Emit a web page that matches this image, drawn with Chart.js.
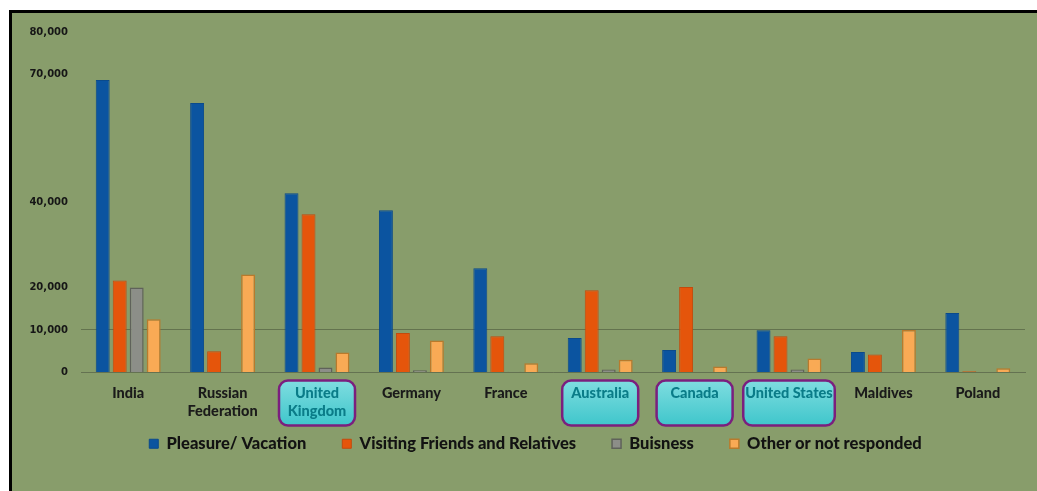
<!DOCTYPE html>
<html>
<head>
<meta charset="utf-8">
<script src="https://cdn.jsdelivr.net/npm/chart.js@4.4.1/dist/chart.umd.min.js"></script>
<style>
    html, body { margin: 0; padding: 0; background: #fff; }
    #frame {
        position: absolute; left: 9px; top: 10px; right: 0; bottom: 0;
        border-left: 3px solid #000; border-top: 3px solid #000;
        background: #889d6b;
    }
    #wrap { position: absolute; left: 0; top: 0; width: 1037px; height: 491px; }
</style>
</head>
<body>
<div id="frame"></div>
<div id="wrap"><canvas id="chart" width="1037" height="491"></canvas></div>
<script>
// Visitors by purpose of visit, top source countries
const countries = ['India', ['Russian', 'Federation'], ['United', 'Kingdom'], 'Germany', 'France',
    'Australia', 'Canada', 'United States', 'Maldives', 'Poland'];
const highlighted = [2, 5, 6, 7]; // boxed labels

const pleasure = [68700, 63300, 42100, 38100, 24500, 8100, 5300, 9900, 4800, 14000];
const friends  = [21600, 5000, 37200, 9300, 8500, 19300, 20100, 8500, 4200, 300];
const business = [20000, 0, 1200, 500, 200, 700, 0, 700, 0, 0];
const other    = [12500, 23000, 4700, 7500, 2200, 3000, 1400, 3300, 10000, 1000];

const yTicks = [0, 10000, 20000, 40000, 70000, 80000];

const labelFont = { family: 'Lato', size: 14.5, weight: 900, lineHeight: 1.3 };

// cyan boxes behind some country labels
const labelBoxes = {
    id: 'labelBoxes',
    beforeDraw(chart) {
        const x = chart.scales.x;
        const ctx = chart.ctx;
        ctx.save();
        ctx.font = `${labelFont.weight} ${labelFont.size}px ${labelFont.family}`;
        highlighted.forEach(i => {
            const lbl = countries[i];
            const lines = Array.isArray(lbl) ? lbl : [lbl];
            const tw = Math.max(...lines.map(l => ctx.measureText(l).width));
            const w = Math.max(tw + 4, 76);
            const cx = x.getPixelForTick(i);
            const top = x.top + 8, h = 45;
            const g = ctx.createLinearGradient(0, top, 0, top + h);
            g.addColorStop(0, '#7fdde0');
            g.addColorStop(1, '#3fc6cb');
            ctx.beginPath();
            ctx.roundRect(cx - w / 2, top, w, h, 9);
            ctx.fillStyle = g;
            ctx.fill();
            ctx.lineWidth = 2.5;
            ctx.strokeStyle = '#7b1f7e';
            ctx.stroke();
        });
        ctx.restore();
    }
};

// legend sits a bit right of centre and closer to the labels than labels.padding allows
const legendNudge = {
    id: 'legendNudge',
    afterLayout(chart) {
        const lg = chart.legend;
        lg.left += 17; lg.right += 17;
        lg.top -= 23; lg.bottom -= 23;
    }
};

new Chart(document.getElementById('chart'), {
    type: 'bar',
    data: {
        labels: countries,
        datasets: [
            { label: 'Pleasure/ Vacation', data: pleasure, backgroundColor: '#0b54a0', borderColor: '#0a4a8c', borderWidth: 1 },
            { label: 'Visiting Friends and Relatives', data: friends, backgroundColor: '#e5550b', borderColor: '#c44a0c', borderWidth: 1 },
            { label: 'Buisness', data: business, backgroundColor: '#8c8e88', borderColor: '#5f625a', borderWidth: 1.5 },
            { label: 'Other or not responded', data: other, backgroundColor: '#f9aa55', borderColor: '#b87a2c', borderWidth: 1.5 }
        ]
    },
    options: {
        responsive: false,
        animation: false,
        layout: { padding: { left: 12, right: 12, top: 32, bottom: 6 } },
        datasets: { bar: { categoryPercentage: 0.72, barPercentage: 0.82 } },
        scales: {
            x: {
                afterFit: (s) => { s.height = 50; },
                grid: { display: false },
                border: { display: true, color: 'rgba(85,95,70,0.7)' },
                ticks: {
                    padding: 3,
                    maxRotation: 0,
                    autoSkip: false,
                    font: labelFont,
                    color: (c) => highlighted.includes(c.index) ? '#0a7c88' : '#1a1a1a'
                }
            },
            y: {
                min: 0,
                max: 80000,
                afterFit: (s) => { s.width = 69; },
                afterBuildTicks: (s) => { s.ticks = yTicks.map(v => ({ value: v })); },
                border: { display: false },
                grid: {
                    drawTicks: false,
                    color: (c) => c.tick && c.tick.value === 10000 ? 'rgba(70,80,55,0.55)' : 'rgba(0,0,0,0)'
                },
                ticks: {
                    padding: 13,
                    font: { family: 'DejaVu Sans', size: 10, weight: 'bold' },
                    color: '#161616',
                    callback: (v) => v.toLocaleString('en-US')
                }
            }
        },
        plugins: {
            legend: {
                position: 'bottom',
                labels: {
                    boxWidth: 9,
                    boxHeight: 9,
                    padding: 36,
                    color: '#121212',
                    font: { family: 'Lato', size: 16.5, weight: 900 }
                }
            },
            tooltip: { enabled: false }
        }
    },
    plugins: [labelBoxes, legendNudge]
});
</script>
</body>
</html>
